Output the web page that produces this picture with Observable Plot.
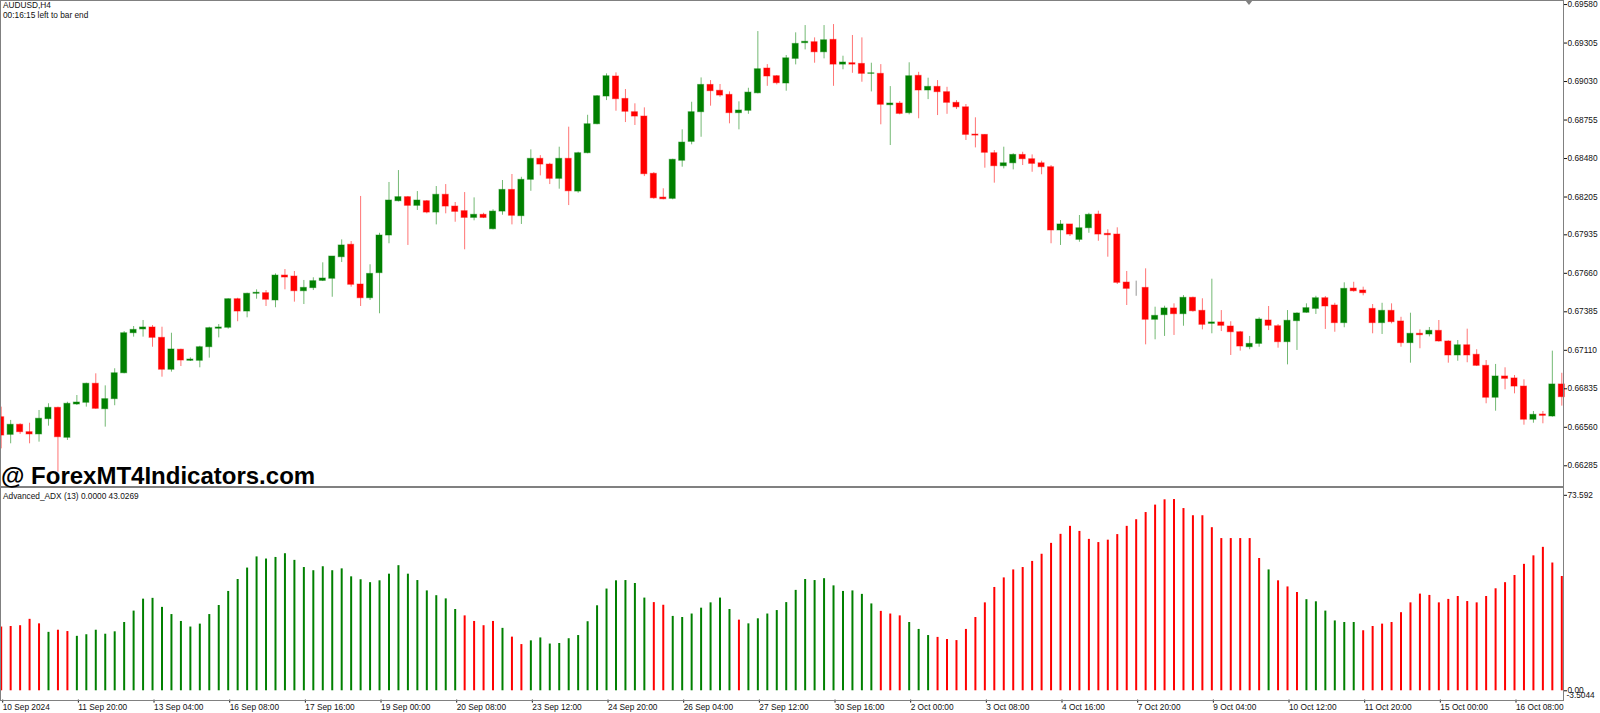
<!DOCTYPE html>
<html><head><meta charset="utf-8">
<script src="https://cdn.jsdelivr.net/npm/d3@7"></script>
<script src="https://cdn.jsdelivr.net/npm/@observablehq/plot@0.6"></script>
<style>
html,body{margin:0;padding:0;background:#fff;}
#wrap{position:relative;width:1600px;height:713px;overflow:hidden;background:#fff;font-family:"Liberation Sans",Arial,sans-serif;}
.abs{position:absolute;}
.ln{position:absolute;background:#808080;}
.lbl{position:absolute;font-size:8.3px;line-height:10px;color:#111;white-space:nowrap;}
#wm{position:absolute;left:1px;top:464px;font:bold 24px/24px "Liberation Sans",Arial,sans-serif;color:#000;white-space:nowrap;}
#shift{position:absolute;left:1245px;top:0;width:0;height:0;border-left:4px solid transparent;border-right:4px solid transparent;border-top:5px solid #808080;}
</style></head><body>
<div id="wrap">
  <div id="p1" class="abs" style="left:0;top:0"></div>
  <div id="p2" class="abs" style="left:0;top:488px"></div>
  <div class="ln" style="left:0;top:0;width:1564px;height:1px"></div>
  <div class="ln" style="left:0;top:0;width:1px;height:701px"></div>
  <div class="ln" style="left:1563px;top:0;width:1px;height:701px"></div>
  <div class="ln" style="left:0;top:486px;width:1564px;height:2px"></div>
  <div class="ln" style="left:0;top:700px;width:1564px;height:1px"></div>
  <div id="shift"></div>
  <div class="lbl" style="left:3px;top:0px">AUDUSD,H4</div>
  <div class="lbl" style="left:3px;top:10px">00:16:15 left to bar end</div>
  <div class="lbl" style="left:3px;top:491px">Advanced_ADX (13) 0.0000 43.0269</div>
  <div id="wm">@ ForexMT4Indicators.com</div>
</div>
<script>
// ---- Candles (AUDUSD H4), index 0 = 10 Sep 2024 ----
const open = [
0.66632,0.66506,0.66578,0.66525,0.66509,0.66618,0.66699,0.66485,0.66723,0.66735,
0.66871,0.66689,0.66761,0.66946,0.67232,0.67259,0.67273,0.67199,0.66971,0.67114,
0.67035,0.67035,0.67132,0.67264,0.67271,0.67475,0.67387,0.67514,0.67518,0.67466,
0.67644,0.67637,0.67532,0.67554,0.67606,0.67621,0.67775,0.67864,0.67580,0.67482,
0.67661,0.67930,0.68175,0.68204,0.68142,0.68175,0.68094,0.68221,0.68137,0.68104,
0.68056,0.68078,0.67975,0.68101,0.68256,0.68068,0.68328,0.68478,0.68437,0.68335,
0.68478,0.68244,0.68518,0.68725,0.68923,0.69066,0.68906,0.68811,0.68780,0.68371,
0.68201,0.68192,0.68464,0.68599,0.68811,0.69006,0.68964,0.68935,0.68804,0.68821,
0.68946,0.69123,0.69068,0.69016,0.69192,0.69304,0.69311,0.69239,0.69328,0.69151,
0.69161,0.69156,0.69085,0.69085,0.68861,0.68873,0.68804,0.69071,0.68966,0.68992,
0.68954,0.68878,0.68846,0.68651,0.68649,0.68518,0.68425,0.68446,0.68506,0.68475,
0.68446,0.68418,0.67966,0.68009,0.67899,0.67982,0.68080,0.67942,0.67937,0.67594,
0.67556,0.67556,0.67328,0.67361,0.67409,0.67368,0.67485,0.67392,0.67299,0.67309,
0.67280,0.67239,0.67132,0.67156,0.67323,0.67282,0.67168,0.67318,0.67378,0.67406,
0.67482,0.67430,0.67304,0.67551,0.67537,0.67406,0.67304,0.67392,0.67316,0.67161,
0.67228,0.67223,0.67249,0.67173,0.67073,0.67146,0.67078,0.66999,0.66771,0.66923,
0.66909,0.66851,0.66614,0.66651,0.66637,0.66866];
const high = [
0.66704,0.66609,0.66585,0.66589,0.66680,0.66728,0.66704,0.66739,0.66787,0.66875,
0.66942,0.66856,0.66978,0.67244,0.67280,0.67323,0.67287,0.67275,0.67232,0.67118,
0.67056,0.67139,0.67275,0.67294,0.67478,0.67482,0.67518,0.67542,0.67537,0.67656,
0.67687,0.67673,0.67609,0.67628,0.67735,0.67780,0.67899,0.67887,0.68209,0.67721,
0.67946,0.68309,0.68394,0.68209,0.68244,0.68180,0.68280,0.68294,0.68166,0.68237,
0.68199,0.68089,0.68114,0.68323,0.68366,0.68346,0.68542,0.68501,0.68446,0.68561,
0.68704,0.68525,0.68789,0.68930,0.69085,0.69092,0.68973,0.68871,0.68842,0.68380,
0.68264,0.68475,0.68685,0.68882,0.69056,0.69037,0.69009,0.68956,0.68885,0.68982,
0.69387,0.69151,0.69073,0.69216,0.69378,0.69430,0.69342,0.69430,0.69437,0.69211,
0.69359,0.69342,0.69161,0.69151,0.68994,0.68887,0.69164,0.69096,0.69054,0.69037,
0.68989,0.68894,0.68866,0.68771,0.68651,0.68537,0.68561,0.68514,0.68525,0.68506,
0.68461,0.68430,0.68037,0.68009,0.68073,0.68089,0.68104,0.67971,0.67985,0.67673,
0.67604,0.67692,0.67418,0.67425,0.67442,0.67501,0.67490,0.67478,0.67618,0.67394,
0.67314,0.67245,0.67209,0.67342,0.67423,0.67294,0.67394,0.67378,0.67442,0.67496,
0.67494,0.67446,0.67592,0.67596,0.67561,0.67437,0.67446,0.67442,0.67346,0.67375,
0.67256,0.67273,0.67323,0.67178,0.67180,0.67261,0.67114,0.67037,0.67009,0.66985,
0.66930,0.66899,0.66673,0.66673,0.67104,0.66946];
const low = [
0.66406,0.66442,0.66509,0.66442,0.66454,0.66568,0.66239,0.66466,0.66716,0.66704,
0.66689,0.66561,0.66714,0.66942,0.67204,0.67204,0.67132,0.66918,0.66954,0.66994,
0.67030,0.66985,0.67054,0.67199,0.67261,0.67314,0.67342,0.67475,0.67423,0.67414,
0.67542,0.67454,0.67437,0.67537,0.67601,0.67489,0.67737,0.67561,0.67423,0.67466,
0.67371,0.67871,0.68170,0.67859,0.68109,0.68085,0.68006,0.68085,0.68025,0.67828,
0.68035,0.68051,0.67970,0.68075,0.68006,0.68009,0.68246,0.68356,0.68294,0.68261,
0.68144,0.68232,0.68514,0.68721,0.68894,0.68818,0.68737,0.68716,0.68351,0.68189,
0.68185,0.68185,0.68418,0.68578,0.68632,0.68854,0.68918,0.68728,0.68685,0.68796,
0.68942,0.68996,0.69006,0.68961,0.69149,0.69256,0.69161,0.69192,0.68996,0.69114,
0.69089,0.69025,0.68956,0.68721,0.68573,0.68792,0.68792,0.68764,0.68901,0.68787,
0.68796,0.68830,0.68609,0.68556,0.68411,0.68304,0.68406,0.68399,0.68430,0.68382,
0.68364,0.67871,0.67859,0.67923,0.67882,0.67946,0.67889,0.67775,0.67580,0.67430,
0.67496,0.67149,0.67185,0.67209,0.67216,0.67282,0.67382,0.67256,0.67228,0.67244,
0.67073,0.67104,0.67114,0.67132,0.67251,0.67125,0.67006,0.67109,0.67375,0.67366,
0.67259,0.67239,0.67271,0.67525,0.67499,0.67228,0.67223,0.67299,0.67132,0.67018,
0.67121,0.67206,0.67168,0.67018,0.67032,0.67021,0.66994,0.66728,0.66675,0.66828,
0.66799,0.66575,0.66589,0.66585,0.66632,0.66711];
const close = [
0.66501,0.66578,0.66525,0.66509,0.66621,0.66699,0.66489,0.66728,0.66737,0.66871,
0.66692,0.66761,0.66946,0.67232,0.67256,0.67273,0.67199,0.66971,0.67116,0.67037,
0.67044,0.67132,0.67268,0.67273,0.67475,0.67387,0.67514,0.67521,0.67471,0.67644,
0.67630,0.67532,0.67556,0.67604,0.67623,0.67780,0.67859,0.67578,0.67482,0.67656,
0.67930,0.68180,0.68204,0.68142,0.68180,0.68094,0.68221,0.68137,0.68099,0.68056,
0.68078,0.68056,0.68101,0.68256,0.68071,0.68328,0.68478,0.68437,0.68335,0.68478,
0.68246,0.68518,0.68725,0.68925,0.69068,0.68904,0.68814,0.68780,0.68368,0.68196,
0.68189,0.68471,0.68594,0.68811,0.69006,0.68961,0.68930,0.68804,0.68823,0.68951,
0.69118,0.69066,0.69018,0.69196,0.69299,0.69314,0.69239,0.69325,0.69151,0.69166,
0.69151,0.69085,0.69089,0.68864,0.68873,0.68799,0.69068,0.68966,0.68992,0.68954,
0.68878,0.68846,0.68649,0.68644,0.68521,0.68425,0.68446,0.68506,0.68475,0.68442,
0.68418,0.67966,0.68009,0.67937,0.67982,0.68078,0.67937,0.67932,0.67592,0.67549,
0.67556,0.67328,0.67356,0.67409,0.67368,0.67485,0.67389,0.67292,0.67309,0.67285,
0.67239,0.67137,0.67156,0.67330,0.67285,0.67168,0.67321,0.67373,0.67411,0.67482,
0.67423,0.67304,0.67549,0.67532,0.67518,0.67304,0.67392,0.67311,0.67161,0.67228,
0.67218,0.67249,0.67173,0.67073,0.67146,0.67073,0.66999,0.66771,0.66923,0.66906,
0.66851,0.66614,0.66649,0.66642,0.66866,0.66775];

// ---- Advanced_ADX (13) histogram ----
const adx = [
24.0,24.2,24.5,26.9,25.2,22.0,22.8,22.3,20.5,21.1,
22.8,21.3,22.2,25.7,30.0,34.5,34.8,31.4,28.7,26.1,
24.0,25.1,28.7,32.1,37.4,41.9,46.2,50.4,49.6,50.2,
51.6,49.1,46.4,45.2,46.7,45.2,45.9,42.9,41.8,40.7,
41.4,43.9,47.1,43.9,41.5,37.6,35.8,34.6,30.6,28.2,
26.1,24.5,26.1,23.5,20.2,17.4,18.8,19.9,17.6,17.8,
19.6,20.8,26.0,32.0,38.3,41.4,41.5,40.4,34.9,33.2,
32.2,28.0,27.6,28.9,31.1,33.1,34.9,30.6,26.6,25.2,
27.1,28.9,30.2,33.2,37.8,41.9,41.5,42.2,39.5,37.4,
37.6,36.3,32.7,29.9,28.9,28.2,25.7,23.1,20.8,20.1,
19.3,18.9,23.1,27.6,33.1,38.9,42.5,45.5,46.4,48.7,
51.4,55.5,58.9,61.9,60.0,57.0,55.8,56.7,58.8,61.9,
64.4,67.1,69.9,71.9,72.0,68.6,65.9,65.9,61.4,57.3,
57.3,57.3,57.3,49.8,45.5,41.4,39.1,37.0,34.3,33.5,
30.0,26.3,25.7,25.7,22.6,24.2,25.1,25.7,29.4,33.1,
36.4,35.9,33.1,34.4,35.5,33.6,33.1,35.5,38.4,40.7,
43.4,47.6,50.8,54.0,48.1,43.0269];
// G = green bar, R = red bar
const adxDir = [
"RRRRR","G","RR","GGGGGGGGGG","GGGGGGGGGG","GGGGGGGGGG","GGGGGGGGGG","G",
"RRRR","G","RR","GGGGGGGGGGGGG","RR","GGGGGGG","R","GGGGGGGGGGGGGG",
"RRR","GGG","RRRRRRRRRR","RRRRRRRRRR","RRRRRRRRRR","RRRRR","G","RRR","GGGGGG",
"RRRRRRRRRRRRRRRRRRRRRR"].join("").split("");

// ---- Axes ----
const priceTicks = [0.69580,0.69305,0.69030,0.68755,0.68480,0.68205,0.67935,0.67660,0.67385,0.67110,0.66835,0.66560,0.66285];
const dateLabels = ["10 Sep 2024","11 Sep 20:00","13 Sep 04:00","16 Sep 08:00","17 Sep 16:00","19 Sep 00:00","20 Sep 08:00","23 Sep 12:00","24 Sep 20:00","26 Sep 04:00","27 Sep 12:00","30 Sep 16:00","2 Oct 00:00","3 Oct 08:00","4 Oct 16:00","7 Oct 20:00","9 Oct 04:00","10 Oct 12:00","11 Oct 20:00","15 Oct 00:00","16 Oct 08:00"];
const dateTickStep = 8;
const adxScale = [-3.5044, 73.592];

const UP = "#008000", DOWN = "#ff0000", FLAT = "#404040";
const n = open.length;
const candles = d3.range(n).map(i => ({
  i, o: open[i], h: high[i], l: low[i], c: close[i],
  col: close[i] > open[i] ? UP : close[i] < open[i] ? DOWN : FLAT
}));
const bars = d3.range(n).map(i => ({i, v: adx[i], col: adxDir[i] === "G" ? UP : DOWN}));
const dateTicks = dateLabels.map((_, k) => k * dateTickStep);

const xDomain = [-0.074, 165.18];
const half = 0.32;
const baseStyle = {fontFamily: "'Liberation Sans', Arial, sans-serif", fontSize: "8.3px", color: "#111", background: "transparent", overflow: "visible"};

const p1 = Plot.plot({
  width: 1600, height: 487,
  marginLeft: 0, marginRight: 37, marginTop: 0, marginBottom: 1,
  style: baseStyle,
  x: {type: "linear", domain: xDomain, axis: null, label: null},
  y: {domain: [0.66137, 0.69609], axis: null, label: null},
  color: {type: "identity"},
  marks: [
    Plot.ruleX(candles, {x: "i", y1: "l", y2: "h", stroke: "col", strokeOpacity: 0.55, strokeWidth: 1}),
    Plot.rect(candles, {x1: d => d.i - half, x2: d => d.i + half, y1: "o", y2: "c", fill: "col", stroke: "col", strokeOpacity: 0.45, strokeWidth: 1}),
    Plot.axisY({anchor: "right", label: null, ticks: priceTicks, tickFormat: d => d.toFixed(5), tickSize: 3, tickPadding: 1})
  ]
});
document.getElementById("p1").appendChild(p1);

const p2 = Plot.plot({
  width: 1600, height: 225,
  marginLeft: 0, marginRight: 37, marginTop: 6.8, marginBottom: 13.4,
  style: baseStyle,
  x: {type: "linear", domain: xDomain, axis: null, label: null},
  y: {domain: adxScale, axis: null, label: null},
  color: {type: "identity"},
  marks: [
    Plot.ruleX(bars, {x: "i", y1: 0, y2: "v", stroke: "col", strokeWidth: 2}),
    Plot.axisX({anchor: "bottom", label: null, ticks: dateTicks, tickFormat: d => dateLabels[Math.round(d / dateTickStep)], tickSize: 3, tickPadding: 1, textAnchor: "start", dx: 1.5}),
    Plot.axisY({anchor: "right", label: null, ticks: [adxScale[1], 0], tickFormat: d => d === 0 ? "0.00" : String(adxScale[1]), tickSize: 3, tickPadding: 1}),
    Plot.text([adxScale[0]], {x: xDomain[1], y: d => d, text: d => d.toFixed(4), textAnchor: "start", dx: 3, dy: -4.5})
  ]
});
document.getElementById("p2").appendChild(p2);
</script>
</body></html>
